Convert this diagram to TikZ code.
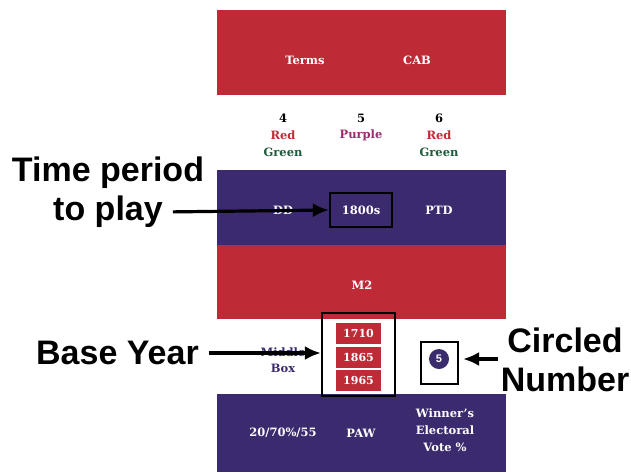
\documentclass[tikz,border=0pt]{standalone}
\usepackage{fontspec}
\setmainfont{DejaVu Serif}
\newfontfamily\labelfont{Liberation Sans}
\usetikzlibrary{arrows.meta}
\definecolor{cred}{HTML}{BE2B37}
\definecolor{cpurple}{HTML}{3B2A6D}
\definecolor{cgreen}{HTML}{1F5B3A}
\definecolor{cmag}{HTML}{9A2B70}
\tikzset{
  band/.style={draw=none, inner sep=0pt},
  wtext/.style={text=white, font=\bfseries\fontsize{11.5}{17}\selectfont, align=center, inner sep=0pt},
  ktext/.style={font=\bfseries\fontsize{11.5}{16.5}\selectfont, align=center, inner sep=0pt},
  biglabel/.style={font=\labelfont\bfseries\fontsize{34}{39}\selectfont, align=center, inner sep=0pt},
  yearbox/.style={fill=cred, text=white, font=\bfseries\fontsize{11}{12}\selectfont, minimum width=45pt, minimum height=21pt, inner sep=0pt},
  callout/.style={draw=black, line width=2.2pt},
  pointer/.style={line width=3.2pt, -{Latex[length=16pt,width=14pt]}}
}
\begin{document}
\begin{tikzpicture}[x=1pt,y=-1pt]
\useasboundingbox (0,0) rectangle (631,472);
% bands
\node[band, fill=cred, minimum width=289pt, minimum height=85pt] (topband) at (361,52.5) {};
\node[band, fill=cpurple, minimum width=289pt, minimum height=75pt] (midband) at (361,207.5) {};
\node[band, fill=cred, minimum width=289pt, minimum height=74pt] (redband) at (361,282) {};
\node[band, fill=cpurple, minimum width=289pt, minimum height=78pt] (botband) at (361,433) {};
% top band texts
\node[wtext] (terms) at (305,60) {Terms};
\node[wtext] (cab) at (417,60) {CAB};
% number row
\node[ktext] (n4) at (283,118) {4};
\node[ktext, text=cred] (r4) at (283,135) {Red};
\node[ktext, text=cgreen] (g4) at (283,152) {Green};
\node[ktext] (n5) at (361,118) {5};
\node[ktext, text=cmag] (p5) at (361,135) {Purple};
\node[ktext] (n6) at (439,118) {6};
\node[ktext, text=cred] (r6) at (439,135) {Red};
\node[ktext, text=cgreen] (g6) at (439,152) {Green};
% middle purple band
\node[wtext] (dd) at (283,210) {DD};
\node[wtext] (t1800) at (361,210) {1800s};
\node[callout, minimum width=62pt, minimum height=34pt, inner sep=0pt] (box1800) at (361,210) {};
\node[wtext] (ptd) at (439,210) {PTD};
% red band
\node[wtext] (m2) at (362,285) {M2};
% middle row
\node[ktext, text=cpurple] (middlebox) at (283,360) {Middle\\Box};
\node[yearbox] (y1710) at (358.5,333.5) {1710};
\node[yearbox] (y1865) at (358.5,357.5) {1865};
\node[yearbox] (y1965) at (358.5,380.5) {1965};
\node[callout, minimum width=73pt, minimum height=83pt, inner sep=0pt] (baseyearbox) at (358.5,354.5) {};
\node[circle, fill=cpurple, text=white, minimum size=20pt, inner sep=0pt, font=\labelfont\bfseries\fontsize{11}{12}\selectfont] (five) at (439,359) {5};
\node[callout, line width=2pt, minimum width=37pt, minimum height=42pt, inner sep=0pt] (circbox) at (439.5,362.5) {};
% bottom band
\node[wtext] (paw1) at (283,433) {20/70\%/55};
\node[wtext] (paw) at (361,433) {PAW};
\node[wtext] (winner) at (445,430) {Winner's\\Electoral\\Vote \%};
% big labels
\node[biglabel] (timeperiod) at (108,173) {Time period};
\node[biglabel] (toplay) at (108,212) {to play};
\node[biglabel, anchor=west] (baseyear) at (36,353) {Base Year};
\node[biglabel] (circled) at (565,360) {Circled\\Number};
% arrows
\draw[pointer, shorten <=10pt] (toplay.east) -- (box1800.west |- 0,210);
\draw[pointer, shorten <=10pt] (baseyear.east) -- (baseyearbox.west |- baseyear.east);
\draw[pointer, shorten <=3pt, shorten >=4pt] (circled.west |- five) -- (circbox.east |- five);
\end{tikzpicture}
\end{document}
